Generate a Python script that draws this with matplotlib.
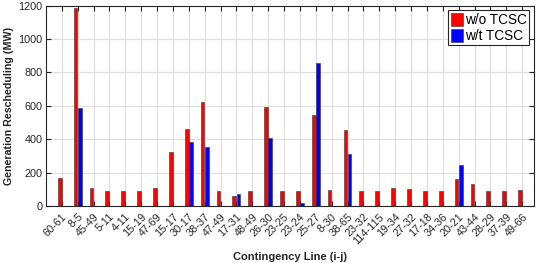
import matplotlib
matplotlib.use("Agg")
import matplotlib.pyplot as plt
import numpy as np

categories = ["60-61", "8-5", "45-49", "5-11", "4-11", "15-19", "47-69", "15-17", "30-17", "38-37",
              "47-49", "17-31", "48-49", "26-30", "23-25", "23-24", "25-27", "8-30", "38-65", "23-32",
              "114-115", "19-34", "27-32", "17-18", "34-36", "20-21", "43-44", "28-29", "37-39", "49-66"]
wo_tcsc = [165, 1185, 107, 90, 90, 88, 110, 325, 462, 622,
           88, 62, 88, 590, 88, 88, 543, 95, 452, 88,
           88, 105, 103, 88, 88, 160, 130, 88, 88, 95]
wt_tcsc = [0, 585, 0, 0, 0, 0, 0, 0, 385, 350,
           0, 70, 0, 408, 0, 15, 857, 0, 310, 0,
           0, 0, 0, 0, 0, 243, 0, 0, 0, 0]

plt.rcParams['font.family'] = ['Liberation Sans', 'DejaVu Sans']
fig = plt.figure(figsize=(5.4, 2.63), dpi=100)
ax = fig.add_axes([0.085, 0.217, 0.904, 0.762])

x = np.arange(1, len(categories) + 1)
w = 0.24
ax.bar(x - 0.13, wo_tcsc, w, color='#ff0000', edgecolor='#333333', linewidth=0.4, label='w/o TCSC', zorder=3)
ax.bar(x + 0.13, wt_tcsc, w, color='#0000ff', edgecolor='#333333', linewidth=0.4, label='w/t TCSC', zorder=3)

ax.set_xlim(0, 30.75)
ax.set_ylim(0, 1200)
ax.set_yticks([0, 200, 400, 600, 800, 1000, 1200])
ax.set_xticks(x)
ax.set_xticklabels(categories, rotation=45, ha='right', rotation_mode='anchor', fontsize=7.8, color='#262626')
ax.tick_params(axis='y', labelsize=7.8, labelcolor='#262626', pad=2.5)
ax.tick_params(direction='in', top=True, right=True, length=3.5, width=0.8, color='#262626', zorder=4)
ax.tick_params(axis='x', pad=4)
ax.grid(True, color='#e0e0e0', linewidth=0.9, zorder=0)
ax.set_axisbelow(True)
for s in ax.spines.values():
    s.set_color('#262626')
    s.set_linewidth(0.8)
    s.set_zorder(5)

ax.set_ylabel('Generation Rescheduling (MW)', fontsize=7.7, fontweight='bold', color='#262626', labelpad=3)
ax.set_xlabel('Contingency Line (i-j)', fontsize=8, fontweight='bold', color='#262626', labelpad=4)

leg = ax.legend(loc='upper right', fontsize=9.8, frameon=True, fancybox=False, framealpha=1,
                edgecolor='#262626', handlelength=0.85, handleheight=1.1, handletextpad=0.15,
                borderpad=0.2, labelspacing=0.1, borderaxespad=0.35)
leg.get_frame().set_linewidth(0.8)

fig.savefig('out.png', dpi=100)
